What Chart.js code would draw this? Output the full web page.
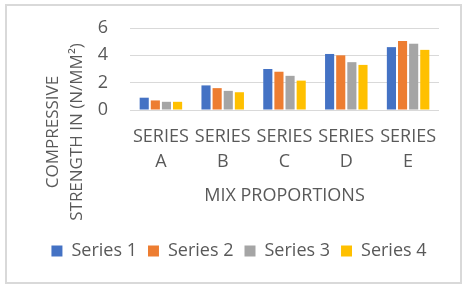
<!DOCTYPE html>
<html>
<head>
<meta charset="utf-8">
<script src="https://cdn.jsdelivr.net/npm/chart.js@4"></script>
<style>
  html, body { margin: 0; padding: 0; background: #fff; }
  #wrap {
    position: absolute; left: 5px; top: 4px;
    width: 453px; height: 276px;
    border: 2px solid #d9d9d9;
  }
</style>
</head>
<body>
<div id="wrap"><canvas id="myChart" width="453" height="276"></canvas></div>
<script>
const categories = [['SERIES', 'A'], ['SERIES', 'B'], ['SERIES', 'C'], ['SERIES', 'D'], ['SERIES', 'E']];
const series1 = [0.9, 1.8, 3.0, 4.1, 4.6];
const series2 = [0.7, 1.6, 2.8, 4.0, 5.05];
const series3 = [0.6, 1.4, 2.5, 3.5, 4.85];
const series4 = [0.6, 1.3, 2.15, 3.3, 4.4];
const seriesNames = ['Series 1', 'Series 2', 'Series 3', 'Series 4'];
const yTicks = [0, 2, 4, 6];
const yTitle = ['COMPRESSIVE', 'STRENGTH IN (N/MM\u00B2)'];
const xTitle = 'MIX PROPORTIONS';

const textColor = '#595959';
const fontFamily = '"Open Sans", sans-serif';

// y title is centred on the whole chart, not on the plot, so draw it by hand
const yTitlePlugin = {
  id: 'yTitle',
  afterDraw(chart) {
    const c = chart.ctx;
    c.save();
    c.fillStyle = textColor;
    c.font = '17px ' + fontFamily;
    c.textAlign = 'center';
    c.textBaseline = 'middle';
    c.translate(46, 126);
    c.rotate(-Math.PI / 2);
    c.fillText(yTitle[0], 0, 0);
    c.fillText(yTitle[1], 0, 24);
    c.restore();
  }
};

const ctx = document.getElementById('myChart').getContext('2d');
const myChart = new Chart(ctx, {
    type: 'bar',
    data: {
        labels: categories,
        datasets: [
          { label: seriesNames[0], data: series1, backgroundColor: '#4472C4' },
          { label: seriesNames[1], data: series2, backgroundColor: '#ED7D31' },
          { label: seriesNames[2], data: series3, backgroundColor: '#A5A5A5' },
          { label: seriesNames[3], data: series4, backgroundColor: '#FFC000' }
        ]
    },
    options: {
        responsive: false,
        animation: false,
        datasets: {
          bar: { categoryPercentage: 0.72, barPercentage: 0.82 }
        },
        layout: {
          padding: { left: 32, right: 21, top: 22, bottom: 12 }
        },
        scales: {
          x: {
            grid: { display: false, drawTicks: false },
            border: { display: false },
            ticks: {
              color: textColor,
              font: { family: fontFamily, size: 18, lineHeight: 1.4 },
              padding: 14,
              maxRotation: 0,
              minRotation: 0,
              autoSkip: false
            },
            title: {
              display: true,
              text: xTitle,
              color: textColor,
              font: { family: fontFamily, size: 18, lineHeight: 1.2 },
              padding: { top: 9, bottom: 24 }
            }
          },
          y: {
            min: 0,
            max: 6,
            // tick padding would otherwise also push the plot top down
            afterFit: (s) => { s.width = 91; s.paddingTop = 11; s.paddingBottom = 11; },
            afterBuildTicks: (s) => { s.ticks = yTicks.map(v => ({ value: v })); },
            grid: { color: '#d9d9d9', lineWidth: 1, drawTicks: false },
            border: { display: false },
            ticks: {
              color: textColor,
              font: { family: fontFamily, size: 18 },
              padding: 22,
              autoSkip: false
            }
          }
        },
        plugins: {
          legend: {
            position: 'bottom',
            labels: {
              color: textColor,
              font: { family: fontFamily, size: 18 },
              boxWidth: 11,
              boxHeight: 11,
              padding: 11
            }
          },
          tooltip: { enabled: false }
        }
    },
    plugins: [yTitlePlugin]
});
</script>
</body>
</html>
